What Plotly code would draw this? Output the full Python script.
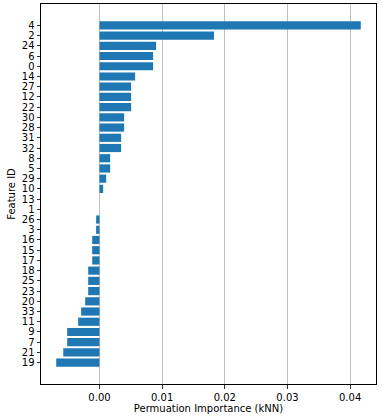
import plotly.graph_objects as go

# Feature IDs from top to bottom as shown
features = ["4", "2", "24", "6", "0", "14", "27", "12", "22", "30", "28", "31", "32",
            "8", "5", "29", "10", "13", "1", "26", "3", "16", "15", "17", "18", "25",
            "23", "20", "33", "11", "9", "7", "21", "19"]
importance = [0.0417, 0.01828, 0.00904, 0.00856, 0.00856, 0.00569, 0.00505, 0.00505,
              0.00505, 0.00394, 0.00394, 0.00346, 0.00346, 0.00171, 0.00171, 0.00107,
              0.00059, 0.0, 0.0, -0.00053, -0.00053, -0.00116, -0.00116, -0.00116,
              -0.0018, -0.0018, -0.0018, -0.00228, -0.00292, -0.0034, -0.00515,
              -0.00515, -0.00578, -0.0069]
x_ticks = [0.0, 0.01, 0.02, 0.03, 0.04]
x_tick_labels = ["0.00", "0.01", "0.02", "0.03", "0.04"]

# bottom-to-top order for the categorical axis
cats = features[::-1]
vals = importance[::-1]

fig = go.Figure(go.Bar(
    x=vals, y=cats, orientation="h", width=0.8,
    marker=dict(color="#1f77b4", line=dict(width=0)),
    hoverinfo="skip",
))

n = len(cats)
pad = 0.05 * (n - 1 + 0.8)
fig.update_layout(
    width=382, height=417,
    margin=dict(l=41, r=6, t=4, b=33, autoexpand=False),
    paper_bgcolor="white", plot_bgcolor="white",
    font=dict(family="DejaVu Sans", size=10, color="black"),
    showlegend=False,
)
fig.update_xaxes(
    range=[-0.00933, 0.04413],
    tickvals=x_ticks, ticktext=x_tick_labels,
    ticks="outside", ticklen=3.5, tickwidth=0.8, tickcolor="black",
    showgrid=True, gridcolor="#b0b0b0", gridwidth=0.8,
    zeroline=False, automargin=False,
    showline=True, linecolor="black", linewidth=1, mirror=True,
    layer="above traces",
    title=dict(text="Permuation Importance (kNN)", standoff=3, font=dict(size=10)),
)
fig.update_yaxes(
    type="category", categoryorder="array", categoryarray=cats,
    tickmode="array", tickvals=cats, ticktext=cats,
    range=[-0.4 - pad, n - 1 + 0.4 + pad],
    ticks="outside", ticklen=3.5, tickwidth=0.8, tickcolor="black",
    showgrid=False, zeroline=False, automargin=False,
    showline=True, linecolor="black", linewidth=1, mirror=True,
    title=dict(text="Feature ID", standoff=4, font=dict(size=10)),
)

fig.write_html("out.html",
               config={"displayModeBar": False, "displaylogo": False, "staticPlot": True},
               post_script="document.body.style.margin='0';document.body.style.overflow='hidden';")
